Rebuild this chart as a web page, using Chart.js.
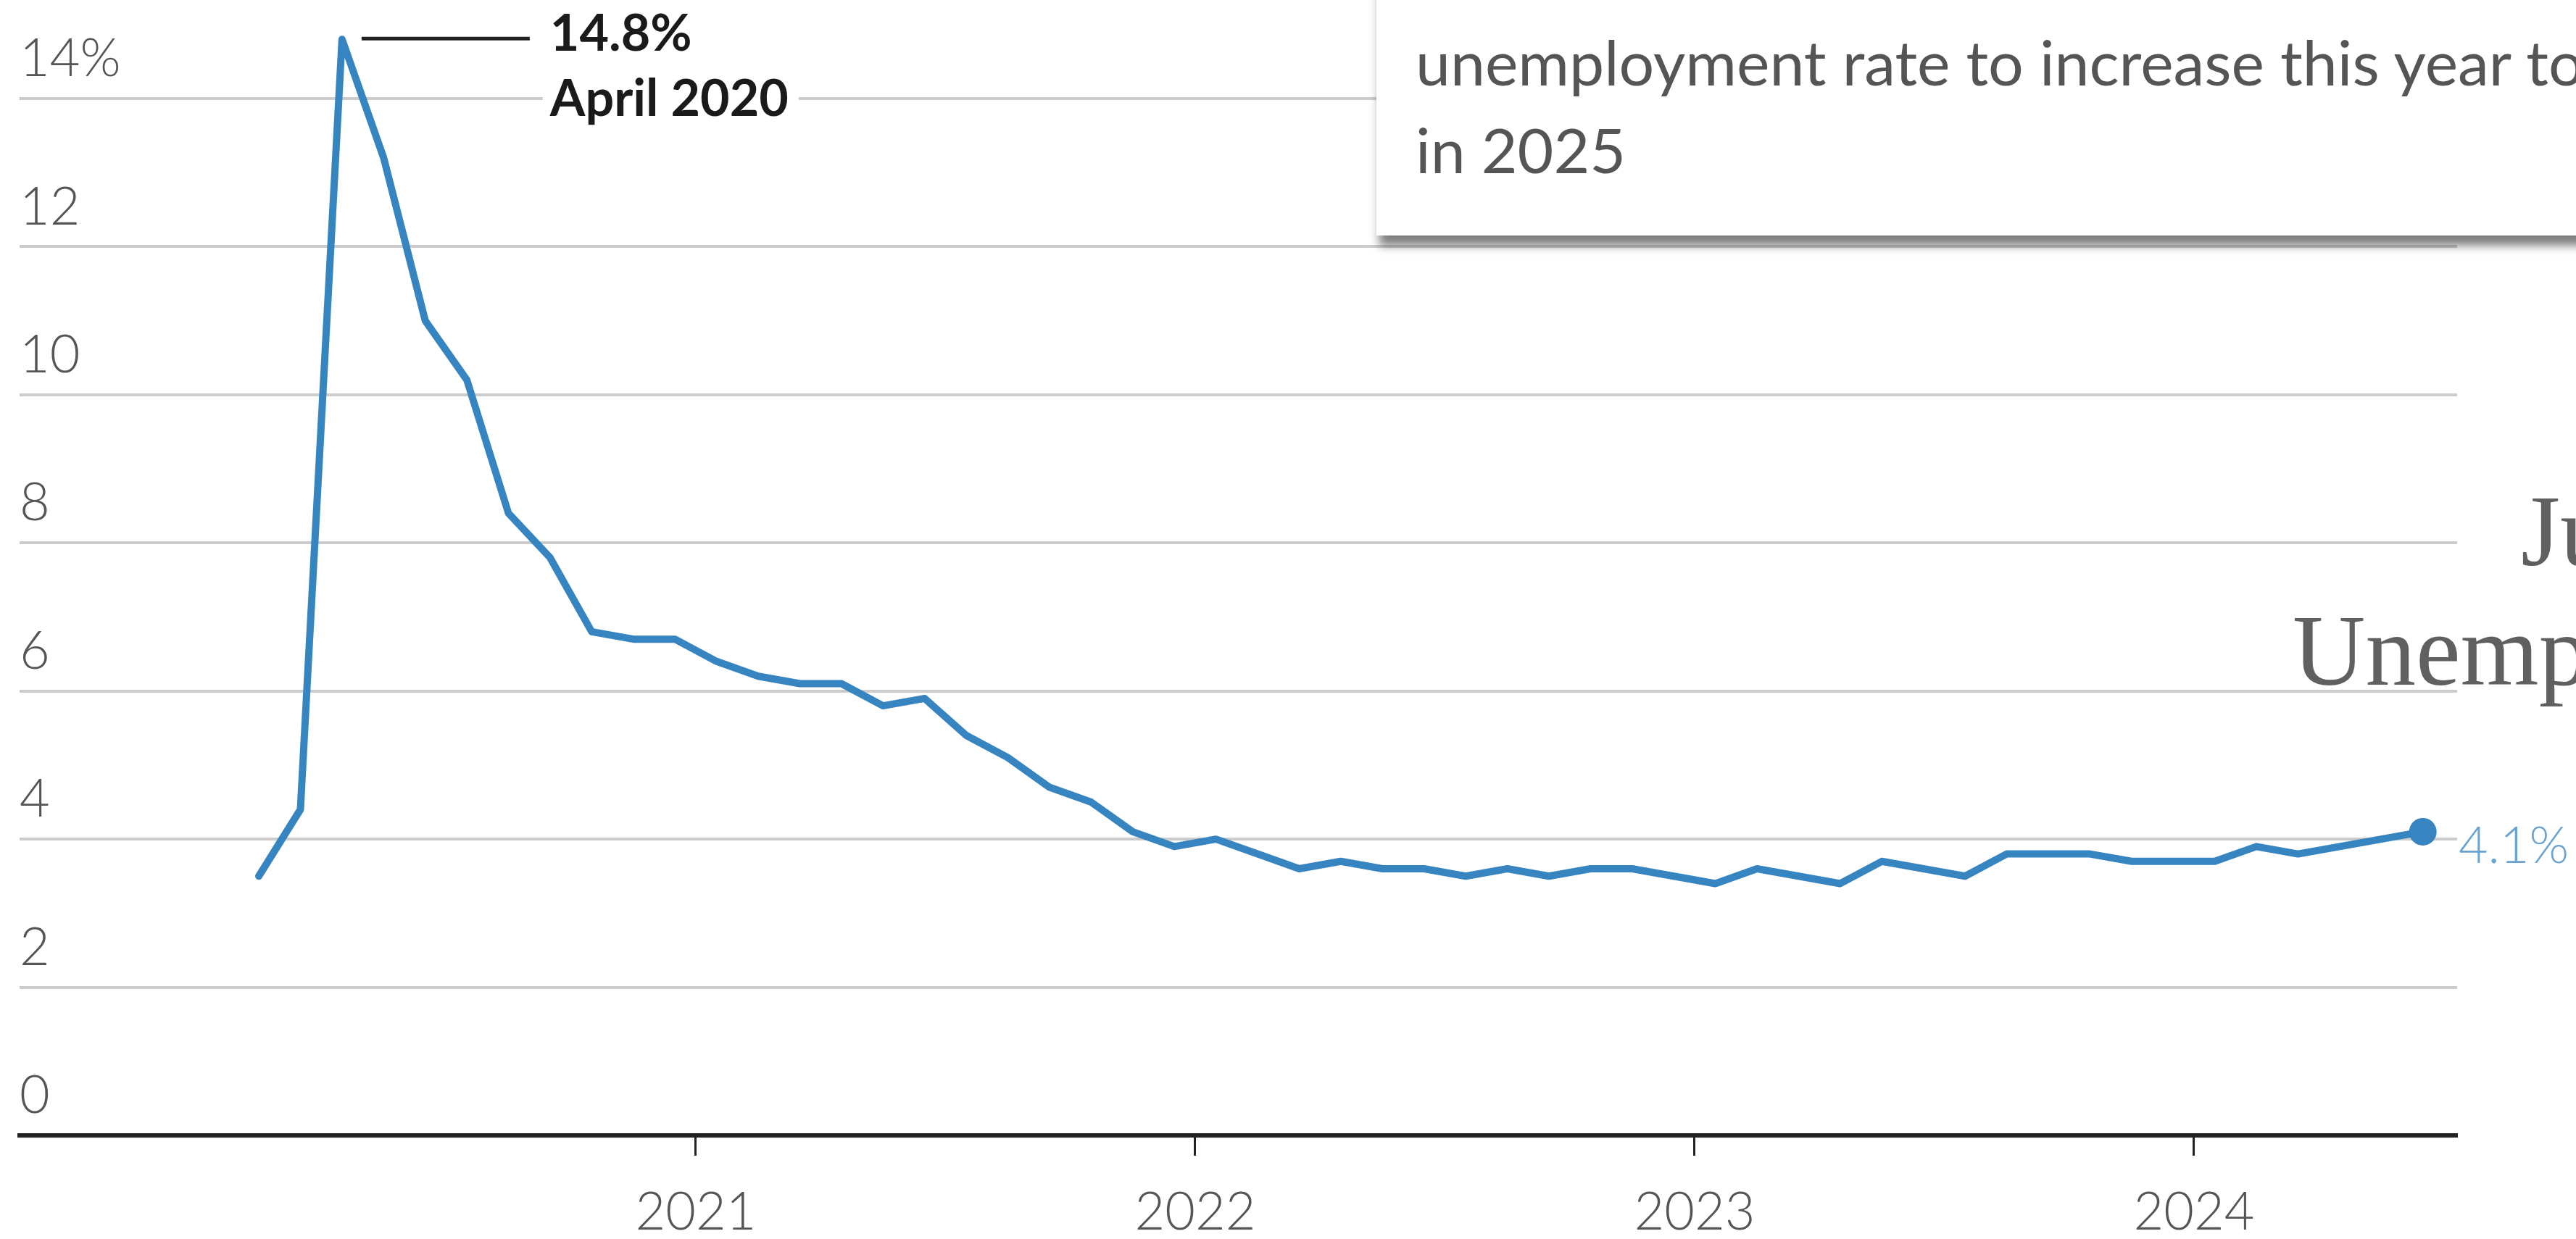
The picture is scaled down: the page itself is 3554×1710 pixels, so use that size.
<!DOCTYPE html>
<html>
<head>
<meta charset="utf-8">
<script src="https://cdn.jsdelivr.net/npm/chart.js@4.4.1/dist/chart.umd.min.js"></script>
<style>
  html, body { margin: 0; padding: 0; background: #fff; overflow: hidden; }
  #wrap { position: relative; width: 3554px; height: 1710px; overflow: hidden; }
  #chart-box { position: absolute; left: 0; top: 0; width: 3554px; height: 1710px; }
  .note {
    position: absolute; left: 1899px; top: -200px; width: 1800px; height: 525px;
    background: #fff; box-shadow: 0 18px 12px -4px rgba(0, 0, 0, 0.5);
  }
  svg.overlay { position: absolute; left: 0; top: 0; }
</style>
</head>
<body>
<div id="wrap">
  <div id="chart-box"><canvas id="lineChart"></canvas></div>
  <div class="note"></div>
  <svg class="overlay" width="3554" height="1710">
    <g font-family="Lato, 'Liberation Sans', sans-serif" font-size="86" fill="#555">
      <text x="1953" y="118">unemployment rate to increase this year to</text>
      <text x="1953" y="239">in 2025</text>
    </g>
    <g font-family="'Liberation Serif', serif" font-size="139" fill="#606060">
      <text x="3478" y="780">June</text>
      <text x="3163" y="945">Unemployment</text>
    </g>
  </svg>
</div>
<script>
// Tỷ lệ thất nghiệp hàng tháng (%)
const months = [
  '2020-02', '2020-03', '2020-04', '2020-05', '2020-06', '2020-07', '2020-08', '2020-09', '2020-10', '2020-11', '2020-12',
  '2021-01', '2021-02', '2021-03', '2021-04', '2021-05', '2021-06', '2021-07', '2021-08', '2021-09', '2021-10', '2021-11', '2021-12',
  '2022-01', '2022-02', '2022-03', '2022-04', '2022-05', '2022-06', '2022-07', '2022-08', '2022-09', '2022-10', '2022-11', '2022-12',
  '2023-01', '2023-02', '2023-03', '2023-04', '2023-05', '2023-06', '2023-07', '2023-08', '2023-09', '2023-10', '2023-11', '2023-12',
  '2024-01', '2024-02', '2024-03', '2024-04', '2024-05', '2024-06'
];
const rates = [
  3.5, 4.4, 14.8, 13.2, 11.0, 10.2, 8.4, 7.8, 6.8, 6.7, 6.7,
  6.4, 6.2, 6.1, 6.1, 5.8, 5.9, 5.4, 5.1, 4.7, 4.5, 4.1, 3.9,
  4.0, 3.8, 3.6, 3.7, 3.6, 3.6, 3.5, 3.6, 3.5, 3.6, 3.6, 3.5,
  3.4, 3.6, 3.5, 3.4, 3.7, 3.6, 3.5, 3.8, 3.8, 3.8, 3.7, 3.7,
  3.7, 3.9, 3.8, 3.9, 4.0, 4.1
];
const yTicks = [0, 2, 4, 6, 8, 10, 12, 14];
const xTicks = [2021, 2022, 2023, 2024];
const peakLabel = ['14.8%', 'April 2020'];

const BLUE = '#3684c0';
const TICK_FONT = { family: 'Lato', size: 72, weight: 300, lineHeight: 1 };

// điểm đặt giữa tháng
function toYear(s) {
  const [y, m] = s.split('-').map(Number);
  return y + (m - 0.5) / 12;
}
const points = months.map((s, i) => ({ x: toYear(s), y: rates[i] }));

// Chú thích đỉnh + nhãn giá trị cuối
const annotations = {
  id: 'annotations',
  afterDatasetsDraw(chart) {
    const ctx = chart.ctx;
    const pts = chart.getDatasetMeta(0).data;
    const p = pts[rates.indexOf(Math.max(...rates))];
    ctx.save();
    ctx.strokeStyle = '#222';
    ctx.lineWidth = 5;
    ctx.beginPath();
    ctx.moveTo(p.x + 27, p.y - 1);
    ctx.lineTo(p.x + 259, p.y - 1);
    ctx.stroke();

    ctx.font = 'bold 70px Lato';
    ctx.textBaseline = 'alphabetic';
    const tx = p.x + 287;
    const w = ctx.measureText(peakLabel[1]).width;
    ctx.fillStyle = '#fff';
    ctx.fillRect(tx - 10, p.y + 58, w + 24, 55);
    ctx.fillStyle = '#1a1a1a';
    ctx.fillText(peakLabel[0], tx, p.y + 16);
    ctx.fillText(peakLabel[1], tx, p.y + 106);

    const last = pts[pts.length - 1];
    ctx.font = '300 70px Lato';
    ctx.fillStyle = '#6aa3d0';
    ctx.fillText(rates[rates.length - 1].toFixed(1) + '%', chart.chartArea.right + 2, last.y + 43);
    ctx.restore();
  }
};

const ctxLine = document.getElementById('lineChart').getContext('2d');
new Chart(ctxLine, {
  type: 'line',
  data: {
    datasets: [{
      data: points,
      borderColor: BLUE,
      borderWidth: 10,
      borderJoinStyle: 'round',
      borderCapStyle: 'round',
      tension: 0,
      pointRadius: c => c.dataIndex === rates.length - 1 ? 19 : 0,
      pointHoverRadius: c => c.dataIndex === rates.length - 1 ? 19 : 0,
      pointBackgroundColor: BLUE,
      pointBorderWidth: 0,
      clip: false
    }]
  },
  options: {
    responsive: true,
    maintainAspectRatio: false,
    animation: false,
    events: [],
    layout: { autoPadding: false, padding: { left: 27, right: 164, top: 0, bottom: 0 } },
    plugins: { legend: { display: false }, tooltip: { enabled: false } },
    scales: {
      x: {
        type: 'linear',
        min: 2019.646,
        max: 2024.527,
        afterBuildTicks: s => { s.ticks = xTicks.map(v => ({ value: v })); },
        afterFit: s => { s.paddingLeft = 0; s.paddingRight = 0; s.height = 143; },
        grid: { drawOnChartArea: false, drawTicks: true, tickLength: 28, tickWidth: 3, tickColor: '#222', color: '#222' },
        border: { display: true, color: '#222', width: 6 },
        ticks: { font: TICK_FONT, color: '#555', padding: 43, maxRotation: 0, autoSkip: false, callback: v => String(v) }
      },
      y: {
        min: 0,
        max: 15.33,
        afterBuildTicks: s => { s.ticks = yTicks.map(v => ({ value: v })); },
        afterFit: s => { s.paddingTop = 0; s.paddingBottom = 0; },
        grid: { color: c => c.tick.value === 0 ? 'rgba(0,0,0,0)' : '#cccccc', lineWidth: 4, drawTicks: false },
        border: { display: false },
        ticks: { mirror: true, padding: 0, labelOffset: -54, font: TICK_FONT, color: '#555', callback: v => v === 14 ? '14%' : String(v) }
      }
    }
  },
  plugins: [annotations]
});
</script>
</body>
</html>
